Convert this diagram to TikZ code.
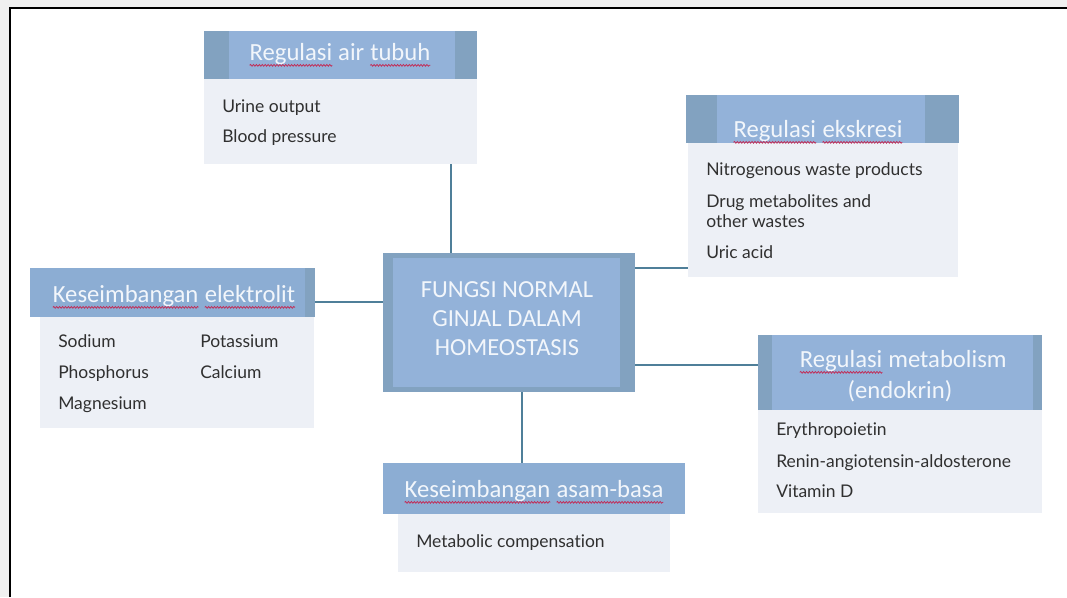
\documentclass[tikz,border=0pt]{standalone}
\usepackage{fontspec}
\usetikzlibrary{decorations.pathmorphing}
\newfontfamily\tfont{Carlito}
\newfontfamily\bfont[Ligatures={NoCommon}]{Lato}
\definecolor{hdrdark}{HTML}{82A2C0}
\definecolor{hdrlight}{HTML}{93B2D9}
\definecolor{hdrmid}{HTML}{8CADD3}
\definecolor{bodyfill}{HTML}{EDF0F6}
\definecolor{linec}{HTML}{4F7F99}
\definecolor{htext}{HTML}{F2F6FB}
\definecolor{btext}{HTML}{303030}
\definecolor{wavec}{HTML}{C0305A}
\definecolor{outside}{HTML}{F0F0F0}
\tikzset{
  panel/.style={inner sep=0pt, outer sep=0pt, draw=none, anchor=north west},
  hdark/.style={panel, fill=hdrdark},
  hlight/.style={panel, fill=hdrlight},
  hmid/.style={panel, fill=hdrmid},
  bodyp/.style={panel, fill=bodyfill},
  ttl/.style={text=htext, font=\tfont\fontsize{18.5}{24}\selectfont, inner sep=0pt, anchor=base},
  ctr/.style={text=htext, font=\tfont\fontsize{18.4}{21.75}\selectfont, inner sep=0pt, align=center},
  itm/.style={text=btext, font=\bfont\fontsize{13.1}{16}\selectfont, inner sep=0pt, anchor=base west},
  conn/.style={draw=linec, line width=1.1pt},
  frameline/.style={draw=black, line width=2.2pt},
}
\newcommand\rbox[6]{\node[#6, minimum width={(#4-#2)*0.75pt}, minimum height={(#5-#3)*0.75pt}] (#1) at (#2,#3) {};}
\newcommand\wv[1]{\tikz[baseline=(w.base)]{\node[inner sep=0pt, outer sep=0pt, draw=none, fill=none, anchor=center] (w) {#1};
  \draw[wavec, line width=0.6pt, decorate, decoration={snake, amplitude=0.65pt, segment length=2.2pt}] ([yshift=-4pt]w.base west) -- ([yshift=-4pt]w.base east);}}
\begin{document}
\begin{tikzpicture}[x=0.75pt, y=-0.75pt]
\useasboundingbox (0,0) rectangle (1067,597);
% background and frame
\fill[outside] (0,0) rectangle (1067,597);
\fill[white] (10,8) rectangle (1067,597);
\draw[frameline] (10,597) -- (10,8) -- (1067,8);

% centre box
\rbox{cen}{383}{253}{635}{392}{hdark}
\rbox{cenin}{393}{258}{620}{387}{hlight}
\node[ctr] (ctext) at (507,319) {FUNGSI NORMAL\\GINJAL DALAM\\HOMEOSTASIS};

% box 1: Regulasi air tubuh
\rbox{h1}{204}{31}{477}{79}{hdark}
\rbox{h1in}{229}{31}{455}{79}{hlight}
\rbox{b1}{204}{79}{477}{164}{bodyp}
\node[ttl] (t1) at (340,60) {\wv{Regulasi} air \wv{tubuh}};
\node[itm] (i11) at (222,112) {Urine output};
\node[itm] (i12) at (222,142) {Blood pressure};

% box 2: Regulasi ekskresi
\rbox{h2}{686}{95}{959}{143}{hdark}
\rbox{h2in}{717}{95}{925}{143}{hlight}
\rbox{b2}{688}{143}{958}{277}{bodyp}
\node[ttl] (t2) at (818,137) {\wv{Regulasi} \wv{ekskresi}};
\node[itm] (i21) at (706,175) {Nitrogenous waste products};
\node[itm] (i22) at (706,207) {Drug metabolites and};
\node[itm] (i23) at (706,227) {other wastes};
\node[itm] (i24) at (706,258) {Uric acid};

% box 3: Keseimbangan elektrolit
\rbox{h3}{30}{268}{315}{317}{hdark}
\rbox{h3in}{30}{268}{305}{317}{hmid}
\rbox{b3}{40}{317}{314}{428}{bodyp}
\node[ttl] (t3) at (174,302) {\wv{Keseimbangan} \wv{elektrolit}};
\node[itm] (i31) at (58,347) {Sodium};
\node[itm] (i32) at (58,378) {Phosphorus};
\node[itm] (i33) at (58,409) {Magnesium};
\node[itm] (i34) at (200,347) {Potassium};
\node[itm] (i35) at (200,378) {Calcium};

% box 4: Regulasi metabolism (endokrin)
\rbox{h4}{758}{335}{1042}{410}{hdark}
\rbox{h4in}{772}{335}{1033}{410}{hlight}
\rbox{b4}{758}{410}{1042}{513}{bodyp}
\node[ttl] (t4a) at (903,367) {\wv{Regulasi} metabolism};
\node[ttl] (t4b) at (900,398) {(endokrin)};
\node[itm] (i41) at (776,435) {Erythropoietin};
\node[itm] (i42) at (776,467) {Renin-angiotensin-aldosterone};
\node[itm] (i43) at (776,497) {Vitamin D};

% box 5: Keseimbangan asam-basa
\rbox{h5}{383}{463}{685}{514}{hmid}
\rbox{b5}{398}{514}{670}{572}{bodyp}
\node[ttl] (t5) at (534,497) {\wv{Keseimbangan} \wv{asam-basa}};
\node[itm] (i51) at (416,547) {Metabolic compensation};

% connectors
\coordinate (k1) at (451,0);
\coordinate (k2) at (0,302);
\coordinate (k3) at (0,268);
\coordinate (k4) at (0,365);
\coordinate (k5) at (522,0);
\draw[conn] (b1.south -| k1) -- (cen.north -| k1);
\draw[conn] (h3.east |- k2) -- (cen.west |- k2);
\draw[conn] (cen.east |- k3) -- (b2.west |- k3);
\draw[conn] (cen.east |- k4) -- (h4.west |- k4);
\draw[conn] (cen.south -| k5) -- (h5.north -| k5);
\end{tikzpicture}
\end{document}
